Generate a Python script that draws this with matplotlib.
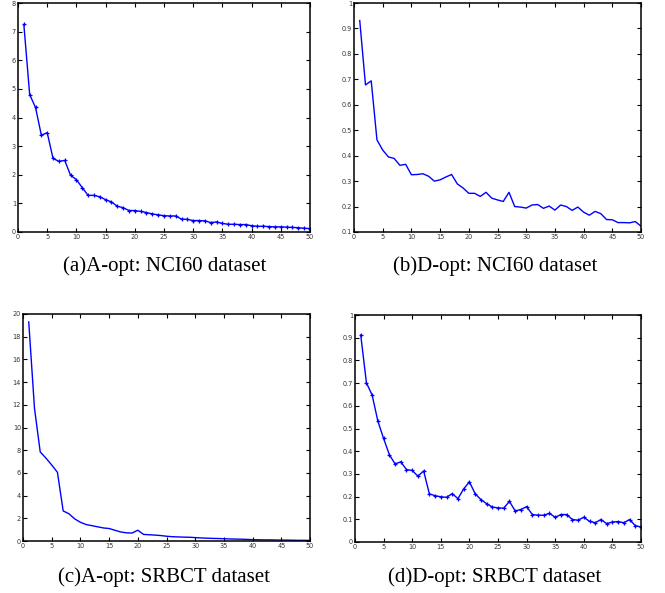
import matplotlib
matplotlib.use("Agg")
import matplotlib.pyplot as plt
import numpy as np

x = list(range(1, 51))

a_opt_nci60 = [7.25, 4.8, 4.35, 3.38, 3.47, 2.57, 2.47, 2.5, 1.98, 1.83,
               1.55, 1.28, 1.28, 1.23, 1.13, 1.05, 0.9, 0.85, 0.75, 0.75,
               0.72, 0.68, 0.63, 0.6, 0.57, 0.56, 0.56, 0.45, 0.44, 0.4,
               0.4, 0.39, 0.33, 0.35, 0.3, 0.27, 0.27, 0.26, 0.26, 0.22,
               0.2, 0.2, 0.19, 0.18, 0.18, 0.17, 0.16, 0.15, 0.13, 0.12]

d_opt_nci60 = [0.931, 0.678, 0.694, 0.462, 0.422, 0.395, 0.389, 0.362, 0.366, 0.325,
               0.326, 0.329, 0.319, 0.30, 0.305, 0.316, 0.326, 0.289, 0.273, 0.252,
               0.252, 0.24, 0.256, 0.233, 0.226, 0.22, 0.256, 0.2, 0.198, 0.194,
               0.206, 0.208, 0.193, 0.202, 0.186, 0.206, 0.2, 0.185, 0.198, 0.178,
               0.166, 0.181, 0.172, 0.149, 0.148, 0.137, 0.137, 0.136, 0.141, 0.123]

a_opt_srbct = [19.3, 11.7, 7.85, 7.3, 6.7, 6.05, 2.65, 2.4, 1.95, 1.65,
               1.45, 1.35, 1.25, 1.15, 1.1, 0.95, 0.8, 0.72, 0.7, 0.95,
               0.58, 0.55, 0.52, 0.48, 0.42, 0.38, 0.36, 0.34, 0.33, 0.3,
               0.27, 0.25, 0.23, 0.22, 0.2, 0.18, 0.17, 0.16, 0.14, 0.12,
               0.11, 0.1, 0.1, 0.09, 0.08, 0.08, 0.07, 0.06, 0.06, 0.05]

d_opt_srbct = [0.912, 0.701, 0.647, 0.532, 0.456, 0.385, 0.344, 0.353, 0.319, 0.315,
               0.29, 0.313, 0.212, 0.204, 0.199, 0.197, 0.213, 0.191, 0.234, 0.265,
               0.213, 0.187, 0.169, 0.154, 0.15, 0.149, 0.179, 0.137, 0.143, 0.156,
               0.121, 0.118, 0.118, 0.126, 0.109, 0.121, 0.121, 0.099, 0.096, 0.109,
               0.091, 0.085, 0.099, 0.081, 0.088, 0.09, 0.085, 0.099, 0.072, 0.066]

captions = ["(a)A-opt: NCI60 dataset", "(b)D-opt: NCI60 dataset",
            "(c)A-opt: SRBCT dataset", "(d)D-opt: SRBCT dataset"]

xticks = list(range(0, 51, 5))
yticks_a = list(range(0, 9))
yticks_b = [0.1, 0.2, 0.3, 0.4, 0.5, 0.6, 0.7, 0.8, 0.9, 1]
yticks_c = list(range(0, 21, 2))
yticks_d = [0, 0.1, 0.2, 0.3, 0.4, 0.5, 0.6, 0.7, 0.8, 0.9, 1]

W, H = 665, 593
fig = plt.figure(figsize=(W / 100, H / 100), dpi=100)

def box(l, r, t, b):
    return [l / W, (H - b) / H, (r - l) / W, (b - t) / H]

panels = [
    (box(18, 310, 3, 232), a_opt_nci60, True, (0, 8), yticks_a, (165, 266)),
    (box(354, 641, 3, 232), d_opt_nci60, False, (0.1, 1), yticks_b, (495, 266)),
    (box(23, 310, 314, 541), a_opt_srbct, False, (0, 20), yticks_c, (164, 577)),
    (box(355, 641, 315, 542), d_opt_srbct, True, (0, 1), yticks_d, (495, 577)),
]

for (pos, y, mk, ylim, yt, cap), text in zip(panels, captions):
    ax = fig.add_axes(pos)
    if mk:
        ax.plot(x, y, color=(0, 0, 1), lw=1.0, marker='+', ms=3.5, mew=0.9)
    else:
        ax.plot(x, y, color=(0, 0, 1), lw=1.0)
    ax.set_xlim(0, 50)
    ax.set_ylim(*ylim)
    ax.set_xticks(xticks)
    ax.set_xticklabels([str(v) for v in xticks])
    ax.set_yticks(yt)
    ax.set_yticklabels([f"{v:g}" for v in yt])
    ax.tick_params(direction='in', length=3, width=0.8, top=True, right=True,
                   labelsize=4.7, labelcolor='#333333', pad=1.5)
    for s in ax.spines.values():
        s.set_linewidth(1.1)
    fig.text(cap[0] / W, 1 - cap[1] / H, text, ha='center', va='center',
             fontsize=15, family='Liberation Serif')

fig.savefig("out.png", dpi=100)
